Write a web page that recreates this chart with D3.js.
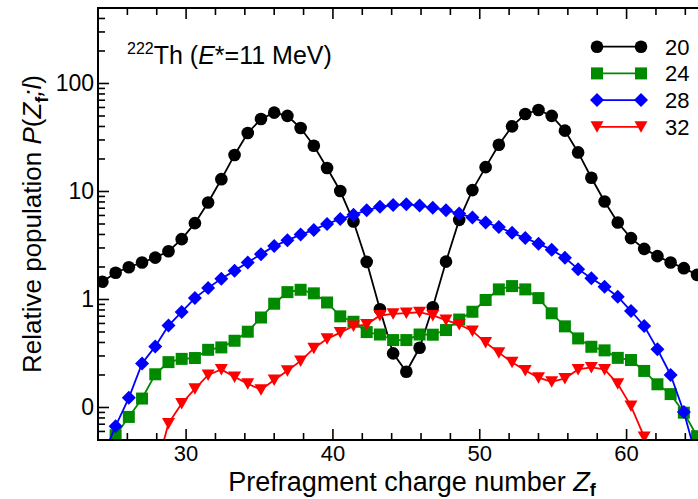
<!DOCTYPE html>
<html>
<head>
<meta charset="utf-8">
<script src="https://cdn.jsdelivr.net/npm/d3@7"></script>
<style>
  body { margin: 0; background: #fff; }
  svg { display: block; font-family: "Liberation Sans", Arial, Helvetica, sans-serif; }
</style>
</head>
<body>
<script>
// prefragment charge number (x) for each point
const zf = [24.3, 25.2, 26.1, 27.0, 27.9, 28.8, 29.7, 30.6, 31.5, 32.4, 33.3, 34.2,
  35.1, 36.0, 36.9, 37.8, 38.7, 39.6, 40.5, 41.4, 42.3, 43.2, 44.1, 45.0, 45.9, 46.8,
  47.7, 48.6, 49.5, 50.4, 51.3, 52.2, 53.1, 54.0, 54.9, 55.8, 56.7, 57.6, 58.5, 59.4,
  60.3, 61.2, 62.1, 63.0, 63.9, 64.8, 65.7];

// relative population, one array per neck length l
const pop20 = [1.46, 1.77, 1.99, 2.20, 2.44, 2.80, 3.62, 5.09, 7.91, 13.0, 21.8, 34.8,
  46.9, 53.7, 50.1, 38.7, 26.5, 16.5, 10.1, 5.27, 2.23, 0.811, 0.317, 0.214, 0.357, 0.847,
  2.24, 5.46, 10.3, 16.8, 27.1, 40.1, 52.2, 56.9, 50.1, 36.6, 23.0, 13.4, 8.08, 5.16,
  3.70, 2.94, 2.52, 2.20, 1.95, 1.69, 1.50];
const pop24 = [0.0339, 0.0553, 0.0818, 0.121, 0.203, 0.263, 0.282, 0.287, 0.342, 0.360,
  0.415, 0.503, 0.681, 0.914, 1.17, 1.23, 1.14, 0.938, 0.698, 0.622, 0.499, 0.474, 0.421,
  0.421, 0.474, 0.472, 0.521, 0.652, 0.770, 0.989, 1.24, 1.33, 1.24, 1.03, 0.745, 0.564,
  0.436, 0.365, 0.338, 0.288, 0.275, 0.218, 0.164, 0.133, 0.0895, 0.0542, null];
const pop28 = [0.0346, 0.0671, 0.123, 0.256, 0.368, 0.574, 0.766, 1.03, 1.28, 1.56, 1.85,
  2.20, 2.63, 3.12, 3.53, 3.99, 4.41, 5.01, 5.56, 6.08, 6.72, 7.21, 7.48, 7.61, 7.40, 7.06,
  6.72, 6.25, 5.73, 5.16, 4.69, 4.14, 3.70, 3.29, 2.88, 2.43, 1.91, 1.57, 1.31, 1.06,
  0.782, 0.568, 0.347, 0.200, 0.091, 0.0325, null];
const pop32 = [null, null, null, null, 0.025, 0.0711, 0.109, 0.149, 0.200, 0.225, 0.192,
  0.166, 0.146, 0.180, 0.219, 0.270, 0.353, 0.432, 0.494, 0.568, 0.586, 0.711, 0.737,
  0.749, 0.762, 0.711, 0.645, 0.586, 0.512, 0.399, 0.322, 0.262, 0.220, 0.189, 0.173,
  0.186, 0.225, 0.235, 0.225, 0.166, 0.103, 0.0534, 0.02, null, null, null, null];

const seriesNames = ['20', '24', '28', '32'];
const xTicks = [30, 40, 50, 60];
const yTicks = [0.1, 1, 10, 100];
const yTickLabels = ['0', '1', '10', '100'];

const width = 698;
const height = 499;
const margin = { left: 98, top: 8, right: 0, bottom: 59 };

const series = [
  { name: seriesNames[0], values: pop20, color: '#000000', shape: 'circle' },
  { name: seriesNames[1], values: pop24, color: '#008a00', shape: 'square' },
  { name: seriesNames[2], values: pop28, color: '#0000ff', shape: 'diamond' },
  { name: seriesNames[3], values: pop32, color: '#ff0000', shape: 'triangle' }
];

const svg = d3.select('body').append('svg')
  .attr('width', width)
  .attr('height', height);

const x = d3.scaleLinear().domain([24, 65]).range([margin.left, 700]);
const y = d3.scaleLog().domain([0.05, 500]).range([height - margin.bottom, margin.top]);

const x0 = x.range()[0], x1 = x.range()[1];
const y0 = y.range()[0], y1 = y.range()[1];

// marker shapes
function markerPath(shape) {
  if (shape === 'circle') return d3.symbol(d3.symbolCircle, 125)();
  if (shape === 'square') return 'M-6,-6H6V6H-6Z';
  if (shape === 'diamond') return 'M0,-7L7,0L0,7L-7,0Z';
  return 'M-6.5,-5.5L6.5,-5.5L0,6Z';
}

svg.append('clipPath').attr('id', 'plotclip')
  .append('rect')
  .attr('x', x0).attr('y', y1)
  .attr('width', x1 - x0).attr('height', y0 - y1);

const plot = svg.append('g').attr('clip-path', 'url(#plotclip)');

const line = d3.line()
  .defined((d) => d.v != null)
  .x((d) => x(d.z))
  .y((d) => y(d.v));

series.forEach((s) => {
  const pts = zf.map((z, i) => ({ z: z, v: s.values[i] }));
  plot.append('path')
    .datum(pts)
    .attr('d', line)
    .attr('fill', 'none')
    .attr('stroke', s.color)
    .attr('stroke-width', 1.8);

  plot.selectAll(null)
    .data(pts.filter((d) => d.v != null))
    .enter()
    .append('path')
    .attr('d', markerPath(s.shape))
    .attr('transform', (d) => `translate(${x(d.z)},${y(d.v)})`)
    .attr('fill', s.color);
});

// frame
const frame = svg.append('g').attr('stroke', '#000').attr('stroke-width', 2).attr('fill', 'none');
frame.append('line').attr('x1', x0).attr('x2', x0).attr('y1', y1 - 1).attr('y2', y0 + 1);
frame.append('line').attr('x1', x0 - 1).attr('x2', width).attr('y1', y1).attr('y2', y1);
frame.append('line').attr('x1', x0 - 1).attr('x2', width).attr('y1', y0).attr('y2', y0);

// x ticks (bottom and top, inward)
const xMinor = d3.range(26, 65, 2).filter((t) => t % 10 !== 0);
const tickG = svg.append('g').attr('stroke', '#000').attr('stroke-width', 1.6);
xTicks.concat(xMinor).forEach((t) => {
  const len = xTicks.includes(t) ? 11 : 7;
  tickG.append('line').attr('x1', x(t)).attr('x2', x(t)).attr('y1', y0).attr('y2', y0 - len);
  tickG.append('line').attr('x1', x(t)).attr('x2', x(t)).attr('y1', y1).attr('y2', y1 + len);
});

// y ticks (left, inward)
const yMinor = [];
[0.01, 0.1, 1, 10, 100].forEach((dec) => {
  for (let m = 2; m <= 9; m++) {
    const v = dec * m;
    if (v >= 0.05 && v <= 500) yMinor.push(v);
  }
});
yTicks.forEach((t) => {
  tickG.append('line').attr('x1', x0).attr('x2', x0 + 11).attr('y1', y(t)).attr('y2', y(t));
});
yMinor.forEach((t) => {
  tickG.append('line').attr('x1', x0).attr('x2', x0 + 7).attr('y1', y(t)).attr('y2', y(t));
});

// tick labels
svg.selectAll('.xlab')
  .data(xTicks)
  .enter()
  .append('text')
  .attr('class', 'xlab')
  .attr('x', (d) => x(d))
  .attr('y', y0 + 21)
  .attr('text-anchor', 'middle')
  .style('font-size', '22px')
  .text((d) => d);

svg.selectAll('.ylab')
  .data(yTicks)
  .enter()
  .append('text')
  .attr('class', 'ylab')
  .attr('x', x0 - 4)
  .attr('y', (d) => y(d) + 8)
  .attr('text-anchor', 'end')
  .style('font-size', '23px')
  .text((d, i) => yTickLabels[i]);

// axis titles
const xt = svg.append('text')
  .attr('x', 412)
  .attr('y', 491)
  .attr('text-anchor', 'middle')
  .style('font-size', '27px');
xt.append('tspan').text('Prefragment charge number ');
xt.append('tspan').style('font-style', 'italic').text('Z');
xt.append('tspan').attr('dy', 5).style('font-size', '18px').style('font-weight', 'bold').text('f');

const yt = svg.append('text')
  .attr('transform', 'translate(41,224) rotate(-90)')
  .attr('text-anchor', 'middle')
  .style('font-size', '26px');
yt.append('tspan').text('Relative population ');
yt.append('tspan').style('font-style', 'italic').text('P');
yt.append('tspan').text('(');
yt.append('tspan').style('font-style', 'italic').text('Z');
yt.append('tspan').attr('dy', 7).style('font-size', '18px').style('font-weight', 'bold').text('f');
yt.append('tspan').attr('dy', -7).style('font-style', 'italic').text(';');
yt.append('tspan').style('font-style', 'italic').text('l');
yt.append('tspan').text(')');

// annotation
const ann = svg.append('text')
  .attr('x', 127)
  .attr('y', 64)
  .style('font-size', '25px');
ann.append('tspan').attr('dy', -10).style('font-size', '16px').text('222');
ann.append('tspan').attr('dy', 10).text('Th (');
ann.append('tspan').style('font-style', 'italic').text('E');
ann.append('tspan').text('*=11 MeV)');

// legend
const legend = svg.append('g');
series.forEach((s, i) => {
  const ly = 46.7 + i * 26.7;
  const g = legend.append('g');
  g.append('line')
    .attr('x1', 597).attr('x2', 641)
    .attr('y1', ly).attr('y2', ly)
    .attr('stroke', s.color)
    .attr('stroke-width', 1.8);
  [597, 641].forEach((lx) => {
    g.append('path')
      .attr('d', markerPath(s.shape))
      .attr('transform', `translate(${lx},${ly})`)
      .attr('fill', s.color);
  });
  g.append('text')
    .attr('x', 665)
    .attr('y', ly + 8)
    .style('font-size', '22px')
    .text(s.name);
});
</script>
</body>
</html>
